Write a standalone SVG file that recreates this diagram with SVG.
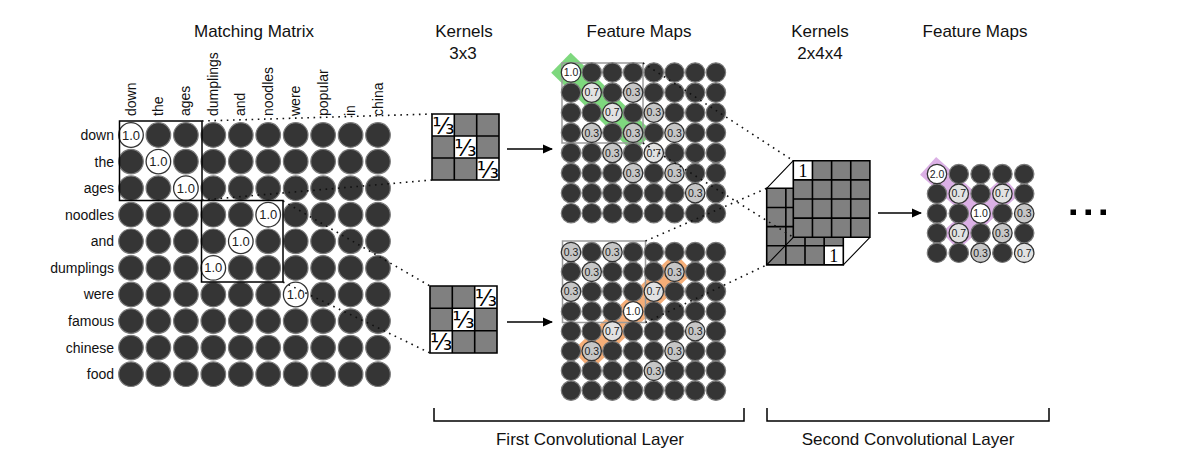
<svg xmlns="http://www.w3.org/2000/svg" xmlns:xlink="http://www.w3.org/1999/xlink" width="1202" height="469" viewBox="0 0 1202 469">
<style>
.t{font-family:"Liberation Sans",Arial,sans-serif;fill:#111}
.title{font-size:17px;text-anchor:middle}
.lab{font-size:14px}
.rl{text-anchor:end}
.dk{fill:#353535;stroke:#7a7a7a;stroke-width:1.2}
.w{fill:#fff;stroke:#333;stroke-width:1.3}
.l7{fill:#e2e2e2;stroke:#333;stroke-width:1.3}
.l3{fill:#c6c6c6;stroke:#333;stroke-width:1.3}
.n13{font-size:13px;text-anchor:middle;fill:#222}
.n10{font-size:10.5px;text-anchor:middle;fill:#222}
.box{fill:none;stroke:#000;stroke-width:1.5}
.gbox{fill:none;stroke:#9a9a9a;stroke-width:1.5}
.dot{fill:none;stroke:#111;stroke-width:1.6;stroke-dasharray:1.6 4.6}
.arr{fill:none;stroke:#000;stroke-width:1.5}
.kg{fill:#808080}
.kw{fill:#fff}
.kl{fill:none;stroke:#000;stroke-width:1.6}
.frac{font-family:"DejaVu Sans","Liberation Sans",sans-serif;font-size:23px;text-anchor:middle;fill:#000}
.one{font-family:"Liberation Serif","Times New Roman",serif;font-size:18px;text-anchor:middle;fill:#000}
</style>
<defs>
<circle id="dk" r="12.3" class="dk"/>
<circle id="fd" r="9.7" class="dk"/>
<marker id="ah" viewBox="0 0 10 10" refX="9" refY="5" markerWidth="7" markerHeight="7" orient="auto" markerUnits="strokeWidth">
<path d="M0,0.5 L10,5 L0,9.5 Z" fill="#000"/>
</marker>
</defs>
<rect width="1202" height="469" fill="#fff"/>

<g id="titles" class="t">
<text class="title" x="254" y="37">Matching Matrix</text>
<text class="title" x="464" y="37">Kernels</text>
<text class="title" x="463" y="59">3x3</text>
<text class="title" x="639" y="37">Feature Maps</text>
<text class="title" x="820" y="37">Kernels</text>
<text class="title" x="820" y="59">2x4x4</text>
<text class="title" x="975" y="37">Feature Maps</text>
</g>

<g id="matching-matrix">
<g class="t lab rl">
<text x="114" y="140">down</text>
<text x="114" y="166.5">the</text>
<text x="114" y="193">ages</text>
<text x="114" y="219.5">noodles</text>
<text x="114" y="246">and</text>
<text x="114" y="272.5">dumplings</text>
<text x="114" y="299">were</text>
<text x="114" y="326">famous</text>
<text x="114" y="352.5">chinese</text>
<text x="114" y="379">food</text>
</g>
<g class="t lab">
<text transform="translate(135.5,116) rotate(-90)">down</text>
<text transform="translate(162.9,116) rotate(-90)">the</text>
<text transform="translate(190.4,116) rotate(-90)">ages</text>
<text transform="translate(217.8,116) rotate(-90)">dumplings</text>
<text transform="translate(245.3,116) rotate(-90)">and</text>
<text transform="translate(272.7,116) rotate(-90)">noodles</text>
<text transform="translate(300.2,116) rotate(-90)">were</text>
<text transform="translate(327.6,116) rotate(-90)">popular</text>
<text transform="translate(355.1,116) rotate(-90)">in</text>
<text transform="translate(382.5,116) rotate(-90)">china</text>
</g>
<g id="mm-cells">
<use href="#dk" x="158.4" y="135"/><use href="#dk" x="185.9" y="135"/><use href="#dk" x="213.3" y="135"/><use href="#dk" x="240.8" y="135"/><use href="#dk" x="268.2" y="135"/><use href="#dk" x="295.7" y="135"/><use href="#dk" x="323.1" y="135"/><use href="#dk" x="350.6" y="135"/><use href="#dk" x="378" y="135"/>
<use href="#dk" x="131" y="161.6"/><use href="#dk" x="185.9" y="161.6"/><use href="#dk" x="213.3" y="161.6"/><use href="#dk" x="240.8" y="161.6"/><use href="#dk" x="268.2" y="161.6"/><use href="#dk" x="295.7" y="161.6"/><use href="#dk" x="323.1" y="161.6"/><use href="#dk" x="350.6" y="161.6"/><use href="#dk" x="378" y="161.6"/>
<use href="#dk" x="131" y="188.2"/><use href="#dk" x="158.4" y="188.2"/><use href="#dk" x="213.3" y="188.2"/><use href="#dk" x="240.8" y="188.2"/><use href="#dk" x="268.2" y="188.2"/><use href="#dk" x="295.7" y="188.2"/><use href="#dk" x="323.1" y="188.2"/><use href="#dk" x="350.6" y="188.2"/><use href="#dk" x="378" y="188.2"/>
<use href="#dk" x="131" y="214.7"/><use href="#dk" x="158.4" y="214.7"/><use href="#dk" x="185.9" y="214.7"/><use href="#dk" x="213.3" y="214.7"/><use href="#dk" x="240.8" y="214.7"/><use href="#dk" x="295.7" y="214.7"/><use href="#dk" x="323.1" y="214.7"/><use href="#dk" x="350.6" y="214.7"/><use href="#dk" x="378" y="214.7"/>
<use href="#dk" x="131" y="241.3"/><use href="#dk" x="158.4" y="241.3"/><use href="#dk" x="185.9" y="241.3"/><use href="#dk" x="213.3" y="241.3"/><use href="#dk" x="268.2" y="241.3"/><use href="#dk" x="295.7" y="241.3"/><use href="#dk" x="323.1" y="241.3"/><use href="#dk" x="350.6" y="241.3"/><use href="#dk" x="378" y="241.3"/>
<use href="#dk" x="131" y="267.9"/><use href="#dk" x="158.4" y="267.9"/><use href="#dk" x="185.9" y="267.9"/><use href="#dk" x="240.8" y="267.9"/><use href="#dk" x="268.2" y="267.9"/><use href="#dk" x="295.7" y="267.9"/><use href="#dk" x="323.1" y="267.9"/><use href="#dk" x="350.6" y="267.9"/><use href="#dk" x="378" y="267.9"/>
<use href="#dk" x="131" y="294.5"/><use href="#dk" x="158.4" y="294.5"/><use href="#dk" x="185.9" y="294.5"/><use href="#dk" x="213.3" y="294.5"/><use href="#dk" x="240.8" y="294.5"/><use href="#dk" x="268.2" y="294.5"/><use href="#dk" x="323.1" y="294.5"/><use href="#dk" x="350.6" y="294.5"/><use href="#dk" x="378" y="294.5"/>
<use href="#dk" x="131" y="321.1"/><use href="#dk" x="158.4" y="321.1"/><use href="#dk" x="185.9" y="321.1"/><use href="#dk" x="213.3" y="321.1"/><use href="#dk" x="240.8" y="321.1"/><use href="#dk" x="268.2" y="321.1"/><use href="#dk" x="295.7" y="321.1"/><use href="#dk" x="323.1" y="321.1"/><use href="#dk" x="350.6" y="321.1"/><use href="#dk" x="378" y="321.1"/>
<use href="#dk" x="131" y="347.6"/><use href="#dk" x="158.4" y="347.6"/><use href="#dk" x="185.9" y="347.6"/><use href="#dk" x="213.3" y="347.6"/><use href="#dk" x="240.8" y="347.6"/><use href="#dk" x="268.2" y="347.6"/><use href="#dk" x="295.7" y="347.6"/><use href="#dk" x="323.1" y="347.6"/><use href="#dk" x="350.6" y="347.6"/><use href="#dk" x="378" y="347.6"/>
<use href="#dk" x="131" y="374.2"/><use href="#dk" x="158.4" y="374.2"/><use href="#dk" x="185.9" y="374.2"/><use href="#dk" x="213.3" y="374.2"/><use href="#dk" x="240.8" y="374.2"/><use href="#dk" x="268.2" y="374.2"/><use href="#dk" x="295.7" y="374.2"/><use href="#dk" x="323.1" y="374.2"/><use href="#dk" x="350.6" y="374.2"/><use href="#dk" x="378" y="374.2"/>
<circle class="w" cx="131" cy="135" r="12.3"/><circle class="w" cx="158.4" cy="161.6" r="12.3"/><circle class="w" cx="185.9" cy="188.2" r="12.3"/><circle class="w" cx="268.2" cy="214.7" r="12.3"/><circle class="w" cx="240.8" cy="241.3" r="12.3"/><circle class="w" cx="213.3" cy="267.9" r="12.3"/><circle class="w" cx="295.7" cy="294.5" r="12.3"/>
<g class="t n13">
<text x="131" y="139.5">1.0</text><text x="158.4" y="166.1">1.0</text><text x="185.9" y="192.7">1.0</text><text x="268.2" y="219.2">1.0</text><text x="240.8" y="245.8">1.0</text><text x="213.3" y="272.4">1.0</text><text x="295.7" y="299">1.0</text>
</g>
</g>
<rect class="box" x="119.5" y="121" width="82.5" height="79.5"/>
<rect class="box" x="201.5" y="200.5" width="81.5" height="81.5"/>
</g>

<g id="kernel-1">
<rect class="kg" x="432" y="114" width="67" height="66"/>
<rect class="kw" x="432" y="114" width="22.3" height="22"/>
<rect class="kw" x="454.3" y="136" width="22.4" height="22"/>
<rect class="kw" x="476.7" y="158" width="22.3" height="22"/>
<path class="kl" d="M432,114H499V180H432Z M454.3,114V180 M476.7,114V180 M432,136H499 M432,158H499"/>
<text class="frac" x="443.3" y="133.5">⅓</text>
<text class="frac" x="465.5" y="155.5">⅓</text>
<text class="frac" x="487.9" y="177.5">⅓</text>
</g>

<g id="kernel-2">
<rect class="kg" x="430" y="286" width="67" height="67"/>
<rect class="kw" x="474.7" y="286" width="22.3" height="22.3"/>
<rect class="kw" x="452.3" y="308.3" width="22.4" height="22.4"/>
<rect class="kw" x="430" y="330.7" width="22.3" height="22.3"/>
<path class="kl" d="M430,286H497V353H430Z M452.3,286V353 M474.7,286V353 M430,308.3H497 M430,330.7H497"/>
<text class="frac" x="485.9" y="305.5">⅓</text>
<text class="frac" x="463.5" y="328">⅓</text>
<text class="frac" x="441.2" y="350.3">⅓</text>
</g>

<g id="feature-map-1">
<line x1="571" y1="72.5" x2="633.1" y2="132.8" stroke="#7ed87e" stroke-width="28" stroke-linecap="square"/>
<rect class="gbox" x="562" y="63" width="81" height="80"/>
<g>
<use href="#fd" x="591.7" y="72.5"/><use href="#fd" x="612.4" y="72.5"/><use href="#fd" x="633.1" y="72.5"/><use href="#fd" x="653.8" y="72.5"/><use href="#fd" x="674.5" y="72.5"/><use href="#fd" x="695.2" y="72.5"/><use href="#fd" x="715.9" y="72.5"/>
<use href="#fd" x="571" y="92.6"/><use href="#fd" x="612.4" y="92.6"/><use href="#fd" x="653.8" y="92.6"/><use href="#fd" x="674.5" y="92.6"/><use href="#fd" x="695.2" y="92.6"/><use href="#fd" x="715.9" y="92.6"/>
<use href="#fd" x="571" y="112.7"/><use href="#fd" x="591.7" y="112.7"/><use href="#fd" x="633.1" y="112.7"/><use href="#fd" x="674.5" y="112.7"/><use href="#fd" x="695.2" y="112.7"/><use href="#fd" x="715.9" y="112.7"/>
<use href="#fd" x="571" y="132.8"/><use href="#fd" x="612.4" y="132.8"/><use href="#fd" x="653.8" y="132.8"/><use href="#fd" x="695.2" y="132.8"/><use href="#fd" x="715.9" y="132.8"/>
<use href="#fd" x="571" y="152.9"/><use href="#fd" x="591.7" y="152.9"/><use href="#fd" x="633.1" y="152.9"/><use href="#fd" x="674.5" y="152.9"/><use href="#fd" x="695.2" y="152.9"/><use href="#fd" x="715.9" y="152.9"/>
<use href="#fd" x="571" y="173"/><use href="#fd" x="591.7" y="173"/><use href="#fd" x="612.4" y="173"/><use href="#fd" x="653.8" y="173"/><use href="#fd" x="695.2" y="173"/><use href="#fd" x="715.9" y="173"/>
<use href="#fd" x="571" y="193.1"/><use href="#fd" x="591.7" y="193.1"/><use href="#fd" x="612.4" y="193.1"/><use href="#fd" x="633.1" y="193.1"/><use href="#fd" x="653.8" y="193.1"/><use href="#fd" x="674.5" y="193.1"/><use href="#fd" x="715.9" y="193.1"/>
<use href="#fd" x="571" y="213.2"/><use href="#fd" x="591.7" y="213.2"/><use href="#fd" x="612.4" y="213.2"/><use href="#fd" x="633.1" y="213.2"/><use href="#fd" x="653.8" y="213.2"/><use href="#fd" x="674.5" y="213.2"/><use href="#fd" x="695.2" y="213.2"/><use href="#fd" x="715.9" y="213.2"/>
</g>
<circle class="w" cx="571" cy="72.5" r="9.7"/>
<circle class="l7" cx="591.7" cy="92.6" r="9.7"/><circle class="l3" cx="633.1" cy="92.6" r="9.7"/>
<circle class="l7" cx="612.4" cy="112.7" r="9.7"/><circle class="l3" cx="653.8" cy="112.7" r="9.7"/>
<circle class="l3" cx="591.7" cy="132.8" r="9.7"/><circle class="l3" cx="633.1" cy="132.8" r="9.7"/><circle class="l3" cx="674.5" cy="132.8" r="9.7"/>
<circle class="l3" cx="612.4" cy="152.9" r="9.7"/><circle class="l7" cx="653.8" cy="152.9" r="9.7"/>
<circle class="l3" cx="633.1" cy="173" r="9.7"/><circle class="l3" cx="674.5" cy="173" r="9.7"/>
<circle class="l3" cx="695.2" cy="193.1" r="9.7"/>
<g class="t n10">
<text x="571" y="76.2">1.0</text>
<text x="591.7" y="96.3">0.7</text><text x="633.1" y="96.3">0.3</text>
<text x="612.4" y="116.4">0.7</text><text x="653.8" y="116.4">0.3</text>
<text x="591.7" y="136.5">0.3</text><text x="633.1" y="136.5">0.3</text><text x="674.5" y="136.5">0.3</text>
<text x="612.4" y="156.6">0.3</text><text x="653.8" y="156.6">0.7</text>
<text x="633.1" y="176.7">0.3</text><text x="674.5" y="176.7">0.3</text>
<text x="695.2" y="196.8">0.3</text>
</g>
</g>

<g id="feature-map-2">
<line x1="591.7" y1="351" x2="674.5" y2="271.8" stroke="#f5ae78" stroke-width="27" stroke-linecap="square"/>
<rect class="gbox" x="562.5" y="241" width="83" height="81.5"/>
<g>
<use href="#fd" x="591.7" y="252"/><use href="#fd" x="633.1" y="252"/><use href="#fd" x="653.8" y="252"/><use href="#fd" x="674.5" y="252"/><use href="#fd" x="695.2" y="252"/><use href="#fd" x="715.9" y="252"/>
<use href="#fd" x="571" y="271.8"/><use href="#fd" x="612.4" y="271.8"/><use href="#fd" x="633.1" y="271.8"/><use href="#fd" x="653.8" y="271.8"/><use href="#fd" x="695.2" y="271.8"/><use href="#fd" x="715.9" y="271.8"/>
<use href="#fd" x="591.7" y="291.6"/><use href="#fd" x="612.4" y="291.6"/><use href="#fd" x="633.1" y="291.6"/><use href="#fd" x="674.5" y="291.6"/><use href="#fd" x="695.2" y="291.6"/><use href="#fd" x="715.9" y="291.6"/>
<use href="#fd" x="571" y="311.4"/><use href="#fd" x="591.7" y="311.4"/><use href="#fd" x="612.4" y="311.4"/><use href="#fd" x="653.8" y="311.4"/><use href="#fd" x="674.5" y="311.4"/><use href="#fd" x="695.2" y="311.4"/><use href="#fd" x="715.9" y="311.4"/>
<use href="#fd" x="571" y="331.2"/><use href="#fd" x="591.7" y="331.2"/><use href="#fd" x="633.1" y="331.2"/><use href="#fd" x="653.8" y="331.2"/><use href="#fd" x="674.5" y="331.2"/><use href="#fd" x="715.9" y="331.2"/>
<use href="#fd" x="571" y="351"/><use href="#fd" x="612.4" y="351"/><use href="#fd" x="633.1" y="351"/><use href="#fd" x="653.8" y="351"/><use href="#fd" x="695.2" y="351"/><use href="#fd" x="715.9" y="351"/>
<use href="#fd" x="571" y="370.8"/><use href="#fd" x="591.7" y="370.8"/><use href="#fd" x="612.4" y="370.8"/><use href="#fd" x="633.1" y="370.8"/><use href="#fd" x="674.5" y="370.8"/><use href="#fd" x="695.2" y="370.8"/><use href="#fd" x="715.9" y="370.8"/>
<use href="#fd" x="571" y="390.6"/><use href="#fd" x="591.7" y="390.6"/><use href="#fd" x="612.4" y="390.6"/><use href="#fd" x="633.1" y="390.6"/><use href="#fd" x="653.8" y="390.6"/><use href="#fd" x="674.5" y="390.6"/><use href="#fd" x="695.2" y="390.6"/><use href="#fd" x="715.9" y="390.6"/>
</g>
<circle class="l3" cx="571" cy="252" r="9.7"/><circle class="l3" cx="612.4" cy="252" r="9.7"/>
<circle class="l3" cx="591.7" cy="271.8" r="9.7"/><circle class="l3" cx="674.5" cy="271.8" r="9.7"/>
<circle class="l3" cx="571" cy="291.6" r="9.7"/><circle class="l7" cx="653.8" cy="291.6" r="9.7"/>
<circle class="w" cx="633.1" cy="311.4" r="9.7"/>
<circle class="l7" cx="612.4" cy="331.2" r="9.7"/><circle class="l3" cx="695.2" cy="331.2" r="9.7"/>
<circle class="l3" cx="591.7" cy="351" r="9.7"/><circle class="l3" cx="674.5" cy="351" r="9.7"/>
<circle class="l3" cx="653.8" cy="370.8" r="9.7"/>
<g class="t n10">
<text x="571" y="255.7">0.3</text><text x="612.4" y="255.7">0.3</text>
<text x="591.7" y="275.5">0.3</text><text x="674.5" y="275.5">0.3</text>
<text x="571" y="295.3">0.3</text><text x="653.8" y="295.3">0.7</text>
<text x="633.1" y="315.1">1.0</text>
<text x="612.4" y="334.9">0.7</text><text x="695.2" y="334.9">0.3</text>
<text x="591.7" y="354.7">0.3</text><text x="674.5" y="354.7">0.3</text>
<text x="653.8" y="374.5">0.3</text>
</g>
</g>

<g id="kernel-2x4x4">
<rect class="kg" x="766.7" y="188.3" width="76.6" height="76.6"/>
<rect class="kw" x="824.15" y="245.75" width="19.15" height="19.15"/>
<path class="kl" d="M766.7,188.3H843.3V264.9H766.7Z M785.85,188.3V264.9 M805,188.3V264.9 M824.15,188.3V264.9 M766.7,207.45H843.3 M766.7,226.6H843.3 M766.7,245.75H843.3"/>
<text class="one" x="833.7" y="262">1</text>
<path d="M766.7,264.9L793.3,237.3 M766.7,188.3L793.3,160.7 M843.3,264.9L869.9,237.3" stroke="#000" stroke-width="1.1" fill="none"/>
<rect class="kg" x="793.3" y="160.7" width="76.6" height="76.6"/>
<rect class="kw" x="793.3" y="160.7" width="19.15" height="19.15"/>
<path class="kl" d="M793.3,160.7H869.9V237.3H793.3Z M812.45,160.7V237.3 M831.6,160.7V237.3 M850.75,160.7V237.3 M793.3,179.85H869.9 M793.3,199H869.9 M793.3,218.15H869.9"/>
<text class="one" x="802.9" y="177">1</text>
</g>

<g id="feature-map-3">
<g stroke="#dbb0e5" stroke-width="24" stroke-linecap="square">
<line x1="937" y1="174" x2="980.6" y2="213.4"/>
<line x1="1002.4" y1="193.7" x2="958.8" y2="233.1"/>
</g>
<g>
<use href="#fd" x="958.8" y="174"/><use href="#fd" x="980.6" y="174"/><use href="#fd" x="1002.4" y="174"/><use href="#fd" x="1024.2" y="174"/>
<use href="#fd" x="937" y="193.7"/><use href="#fd" x="980.6" y="193.7"/><use href="#fd" x="1024.2" y="193.7"/>
<use href="#fd" x="937" y="213.4"/><use href="#fd" x="958.8" y="213.4"/><use href="#fd" x="1002.4" y="213.4"/>
<use href="#fd" x="937" y="233.1"/><use href="#fd" x="980.6" y="233.1"/><use href="#fd" x="1024.2" y="233.1"/>
<use href="#fd" x="937" y="252.8"/><use href="#fd" x="958.8" y="252.8"/><use href="#fd" x="1002.4" y="252.8"/>
</g>
<circle class="w" cx="937" cy="174" r="9.7"/>
<circle class="l7" cx="958.8" cy="193.7" r="9.7"/><circle class="l7" cx="1002.4" cy="193.7" r="9.7"/>
<circle class="w" cx="980.6" cy="213.4" r="9.7"/><circle class="l3" cx="1024.2" cy="213.4" r="9.7"/>
<circle class="l7" cx="958.8" cy="233.1" r="9.7"/><circle class="l3" cx="1002.4" cy="233.1" r="9.7"/>
<circle class="l3" cx="980.6" cy="252.8" r="9.7"/><circle class="l7" cx="1024.2" cy="252.8" r="9.7"/>
<g class="t n10">
<text x="937" y="177.7">2.0</text>
<text x="958.8" y="197.4">0.7</text><text x="1002.4" y="197.4">0.7</text>
<text x="980.6" y="217.1">1.0</text><text x="1024.2" y="217.1">0.3</text>
<text x="958.8" y="236.8">0.7</text><text x="1002.4" y="236.8">0.3</text>
<text x="980.6" y="256.5">0.3</text><text x="1024.2" y="256.5">0.7</text>
</g>
</g>

<g id="ellipsis" fill="#000">
<rect x="1070.5" y="209.5" width="5.5" height="5.5"/>
<rect x="1085.5" y="209.5" width="5.5" height="5.5"/>
<rect x="1100.5" y="209.5" width="5.5" height="5.5"/>
</g>

<g id="connectors">
<line class="dot" x1="202" y1="121" x2="432" y2="114"/>
<line class="dot" x1="202" y1="200" x2="432" y2="180"/>
<line class="dot" x1="283" y1="201" x2="430" y2="286"/>
<line class="dot" x1="283" y1="282" x2="430" y2="353"/>
<line class="dot" x1="643" y1="63" x2="793.3" y2="160.7"/>
<line class="dot" x1="643" y1="143" x2="793.3" y2="237.3"/>
<line class="dot" x1="645.5" y1="241" x2="766.7" y2="188.3"/>
<line class="dot" x1="645.5" y1="322.5" x2="766.7" y2="264.9"/>
<line class="arr" x1="507" y1="149" x2="552" y2="149" marker-end="url(#ah)"/>
<line class="arr" x1="507" y1="322" x2="552" y2="322" marker-end="url(#ah)"/>
<line class="arr" x1="878" y1="213" x2="921" y2="213" marker-end="url(#ah)"/>
</g>

<g id="layer-brackets">
<path class="arr" d="M434,408V421H744V408"/>
<path class="arr" d="M767,408V421H1049V408"/>
<text class="t title" x="590" y="445">First Convolutional Layer</text>
<text class="t title" x="908" y="445">Second Convolutional Layer</text>
</g>
</svg>
